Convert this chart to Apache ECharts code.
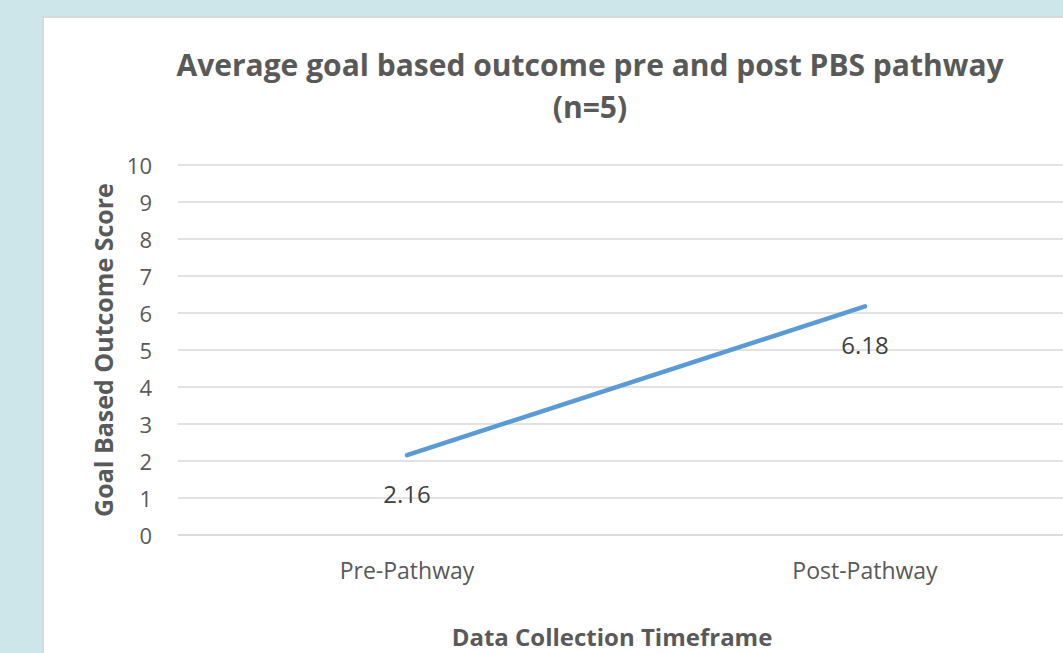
<!DOCTYPE html>
<html>
<head>
<meta charset="utf-8">
<script src="https://cdn.jsdelivr.net/npm/echarts@6/dist/echarts.min.js"></script>
<style>
  html, body { margin: 0; padding: 0; width: 1063px; height: 653px; overflow: hidden; background: #cde6ea; }
  #panel { position: absolute; left: 42px; top: 16px; width: 1100px; height: 700px; background: #fff; border: 2px solid #d9d9d9; }
  #chart { position: absolute; left: 0; top: 0; width: 1120px; height: 653px; }
</style>
</head>
<body>
<div id="panel"></div>
<div id="chart"></div>
<script>
const categories = ['Pre-Pathway', 'Post-Pathway'];
const scores = [2.16, 6.18];
const yTicks = { min: 0, max: 10, interval: 1 };
const titleText = 'Average goal based outcome pre and post PBS pathway\n(n=5)';
const yAxisName = 'Goal Based Outcome Score';
const xAxisName = 'Data Collection Timeframe';

const FONT = '"Open Sans", sans-serif';
const chart = echarts.init(document.getElementById('chart'), null, { renderer: 'svg' });
chart.setOption({
  animation: false,
  title: [
    {
      text: titleText,
      left: 585, top: 38, textAlign: 'center',
      textStyle: { fontFamily: FONT, fontSize: 30, fontWeight: 'bold', color: '#595959', lineHeight: 42, align: 'center' }
    },
    {
      text: xAxisName,
      left: 607, top: 619, textAlign: 'center',
      textStyle: { fontFamily: FONT, fontSize: 24, fontWeight: 'bold', color: '#595959' }
    }
  ],
  grid: { left: 178, top: 165, width: 916, height: 370, containLabel: false },
  xAxis: {
    type: 'category',
    data: categories,
    boundaryGap: true,
    axisLine: { show: true, lineStyle: { color: '#d9d9d9', width: 1.5 } },
    axisTick: { show: false },
    axisLabel: { fontFamily: FONT, fontSize: 23, color: '#595959', margin: 23 }
  },
  yAxis: {
    type: 'value',
    min: yTicks.min, max: yTicks.max, interval: yTicks.interval,
    name: yAxisName,
    nameLocation: 'middle',
    nameGap: 62,
    nameRotate: 90,
    nameTextStyle: { fontFamily: FONT, fontSize: 25, fontWeight: 'bold', color: '#595959' },
    axisLine: { show: false },
    axisTick: { show: false },
    splitLine: { lineStyle: { color: '#d9d9d9', width: 1.5 } },
    axisLabel: { fontFamily: FONT, fontSize: 22, color: '#595959', margin: 26 }
  },
  series: [{
    type: 'line',
    data: scores,
    symbol: 'circle',
    symbolSize: 1,
    showSymbol: true,
    itemStyle: { color: 'rgba(0,0,0,0)' },
    lineStyle: { color: '#5b9bd5', width: 4.5, cap: 'round' },
    label: {
      show: true, position: 'bottom', distance: 26,
      fontFamily: FONT, fontSize: 24, color: '#404040',
      formatter: p => p.value.toFixed(2)
    }
  }]
});
</script>
</body>
</html>
